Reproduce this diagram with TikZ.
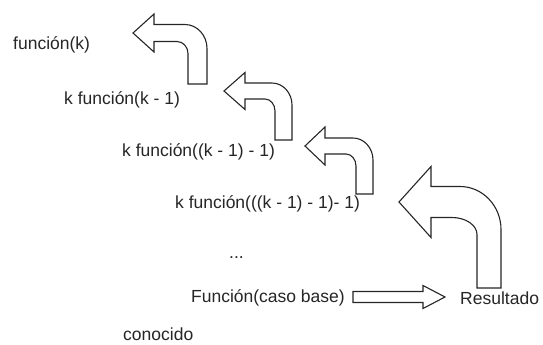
\documentclass[tikz,border=0pt]{standalone}
\usepackage{fontspec}
\setmainfont{Liberation Sans}
\definecolor{ink}{HTML}{262626}
\tikzset{
  arrowline/.style={draw=ink, line width=1.1pt, fill=white, line join=miter},
  lbl/.style={anchor=west, inner sep=0pt, text=ink, font=\fontsize{17.5}{20}\selectfont}
}
% tx ty hx h s xo xi yb
\newcommand\bentarrow[8]{%
  \draw[arrowline] (#1,#2) -- (#3,{#2-#4}) -- (#3,{#2-#5}) -- ({#6-\rox},{#2-#5})
    .. controls ({#6-0.45*\rox},{#2-#5}) and (#6,{#2-#5+0.45*\roy}) .. (#6,{#2-#5+\roy})
    -- (#6,#8) -- (#7,#8) -- (#7,{#2+#5+\riy})
    .. controls (#7,{#2+#5+0.45*\riy}) and ({#7-0.45*\rix},{#2+#5}) .. ({#7-\rix},{#2+#5})
    -- (#3,{#2+#5}) -- (#3,{#2+#4}) -- cycle;}
\begin{document}
\begin{tikzpicture}[x=1pt,y=-1pt]
\fill[white] (0,0) rectangle (543,345);
\useasboundingbox (0,0) rectangle (543,345);

\node[lbl] (f1) at (13,45) {función(k)};
\node[lbl] (f2) at (64,100) {k función(k - 1)};
\node[lbl] (f3) at (122,152) {k función((k - 1) - 1)};
\node[lbl] (f4) at (175,204) {k función(((k - 1) - 1)- 1)};
\node[lbl] (dots) at (229,258) {...};
\node[lbl, anchor=east] (base) at (345,298) {Función(caso base)};
\node[lbl] (res) at (460,298) {Resultado};
\node[lbl] (con) at (123,334) {conocido};

\def\rox{22}\def\roy{24}\def\rix{11}\def\riy{12}
\bentarrow{133}{33}{154}{19}{8.5}{207}{188}{84}
\def\rox{20}\def\roy{22}\def\rix{10}\def\riy{12}
\bentarrow{224}{91}{245}{18.5}{8}{292}{275}{140}
\bentarrow{305}{146}{325}{19}{8}{373}{356}{194}
\def\rox{41}\def\roy{43}\def\rix{25}\def\riy{17}
\bentarrow{399}{202}{431}{35.5}{15.5}{501}{477}{288}

\draw[arrowline] (353,291.5) -- (423,291.5) -- (423,285.5) -- (445,297) -- (423,308.5) -- (423,302.5) -- (353,302.5) -- cycle;
\end{tikzpicture}
\end{document}
